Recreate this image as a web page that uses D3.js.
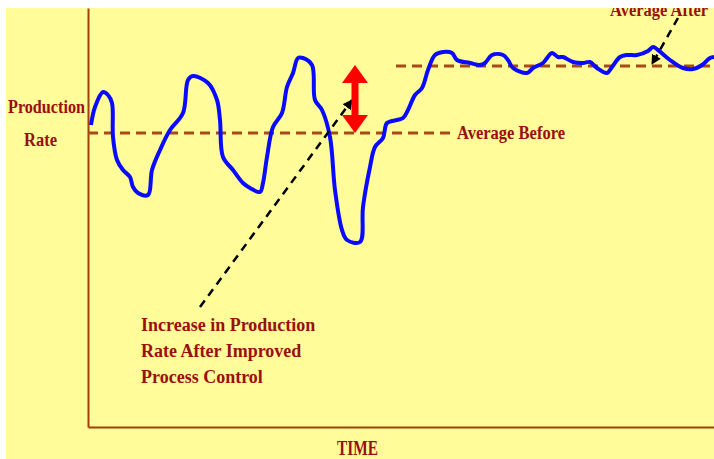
<!DOCTYPE html>
<html>
<head>
<meta charset="utf-8">
<script src="https://cdn.jsdelivr.net/npm/d3@7"></script>
<style>
  html, body { margin: 0; padding: 0; background: #fff; }
  svg { display: block; }
</style>
</head>
<body>
<svg id="chart" width="714" height="459"></svg>
<script>
// time units and production rate
const time = [3, 7, 15, 20, 24, 25, 29, 35, 42, 45, 50, 60, 64, 72, 82, 95, 100, 105, 120, 129,
  132, 135, 145, 155, 162, 172, 175, 179, 185, 194, 199, 205, 210, 215, 224, 227, 234, 242, 247, 254,
  259, 272, 275, 282, 287, 295, 299, 309, 315, 320, 327, 334, 340, 347, 355, 364, 369, 382, 392, 397,
  404, 415, 420, 425, 439, 445, 455, 464, 470, 475, 485, 495, 502, 509, 519, 524, 532, 539, 549, 560,
  565, 570, 582, 595, 605, 614, 622, 626];
const rate = [302, 320, 335, 332, 324, 290, 267, 257, 250, 240, 234, 232, 257, 277, 297, 314, 347, 351, 344, 327,
  307, 270, 257, 244, 239, 235, 244, 270, 300, 314, 340, 354, 369, 369, 362, 327, 317, 290, 237, 197,
  187, 185, 220, 260, 280, 289, 304, 307, 309, 317, 332, 339, 357, 372, 375, 374, 367, 364, 362, 364,
  372, 372, 367, 359, 354, 359, 364, 374, 370, 370, 365, 364, 365, 359, 354, 360, 370, 372, 372, 376,
  380, 377, 367, 359, 358, 362, 369, 370];

const averageBefore = { value: 294, from: 0, to: 366 };
const averageAfter = { value: 361, from: 308, to: 626 };
const improvement = { at: 267 };
const annotationLines = ['Increase in Production', 'Rate After Improved', 'Process Control'];

const width = 714, height = 459;
const plot = { left: 88, top: 8, right: 714, bottom: 427 };

const svg = d3.select('#chart');

const x = d3.scaleLinear().domain([0, 626]).range([plot.left, plot.right]);
const y = d3.scaleLinear().domain([0, 419]).range([plot.bottom, plot.top]);

const textColor = '#9a0f0f';
const serif = '"Liberation Serif", "Times New Roman", serif';

// yellow slide background
svg.append('rect')
  .attr('x', 6).attr('y', 8)
  .attr('width', width - 6).attr('height', height - 8)
  .attr('fill', '#fffc99');

const defs = svg.append('defs');
defs.append('marker')
  .attr('id', 'blackHead')
  .attr('viewBox', '0 0 10 10')
  .attr('refX', 9).attr('refY', 5)
  .attr('markerWidth', 4).attr('markerHeight', 4)
  .attr('markerUnits', 'strokeWidth')
  .attr('orient', 'auto')
  .append('path')
  .attr('d', 'M0,0 L10,5 L0,10 Z')
  .attr('fill', '#000');

// axes (lines only)
svg.append('g')
  .attr('transform', `translate(${plot.left},0)`)
  .call(d3.axisLeft(y).tickValues([]).tickSizeOuter(0))
  .select('.domain').attr('stroke', '#a0400a').attr('stroke-width', 2);

svg.append('g')
  .attr('transform', `translate(0,${plot.bottom})`)
  .call(d3.axisBottom(x).tickValues([]).tickSizeOuter(0))
  .select('.domain').attr('stroke', '#a0400a').attr('stroke-width', 2);

// average lines
[averageBefore, averageAfter].forEach(a => {
  svg.append('line')
    .attr('x1', x(a.from)).attr('x2', x(a.to))
    .attr('y1', y(a.value)).attr('y2', y(a.value))
    .attr('stroke', '#a8491a')
    .attr('stroke-width', 3)
    .attr('stroke-dasharray', '10,6');
});

// production curve
const line = d3.line()
  .x((d, i) => x(time[i]))
  .y(d => y(d))
  .curve(d3.curveCatmullRom.alpha(0.5));

svg.append('path')
  .datum(rate)
  .attr('fill', 'none')
  .attr('stroke', '#0a0aff')
  .attr('stroke-width', 4)
  .attr('stroke-linejoin', 'round')
  .attr('d', line);

// annotation arrows
svg.append('line')
  .attr('x1', x(112)).attr('y1', y(120))
  .attr('x2', x(264)).attr('y2', y(327))
  .attr('stroke', '#000').attr('stroke-width', 2.5)
  .attr('stroke-dasharray', '8,6')
  .attr('marker-end', 'url(#blackHead)');

svg.append('line')
  .attr('x1', x(590)).attr('y1', y(409))
  .attr('x2', x(564)).attr('y2', y(363))
  .attr('stroke', '#000').attr('stroke-width', 2.5)
  .attr('stroke-dasharray', '8,6')
  .attr('marker-end', 'url(#blackHead)');

// red double arrow
const ax = x(improvement.at);
const yTop = y(averageAfter.value + 1);
const yBot = y(averageBefore.value);
svg.append('rect')
  .attr('x', ax - 3.5).attr('y', yTop + 16)
  .attr('width', 7).attr('height', yBot - yTop - 32)
  .attr('fill', '#ff0000');
svg.append('path')
  .attr('d', `M${ax},${yTop} L${ax + 13},${yTop + 18} L${ax - 13},${yTop + 18} Z`)
  .attr('fill', '#ff0000');
svg.append('path')
  .attr('d', `M${ax},${yBot} L${ax + 13},${yBot - 18} L${ax - 13},${yBot - 18} Z`)
  .attr('fill', '#ff0000');

// texts
const label = (txt, tx, ty, size, len) => {
  const t = svg.append('text')
    .attr('x', tx).attr('y', ty)
    .attr('font-family', serif)
    .attr('font-weight', 'bold')
    .attr('font-size', size)
    .attr('fill', textColor)
    .text(txt);
  if (len) t.attr('textLength', len).attr('lengthAdjust', 'spacingAndGlyphs');
  return t;
};

label('Production', 8, 113, 19, 77);
label('Rate', 24, 146, 19, 33);
label('Average Before', x(averageBefore.to) + 3, y(averageBefore.value) + 6, 18, 108);
label('Average After', 610, 16, 18, 98);
annotationLines.forEach((l, i) => {
  label(l, 141, 331 + i * 26, 18);
});
label('TIME', 337, 455, 20, 41);

// white slide margins
svg.append('rect').attr('x', 0).attr('y', 0).attr('width', width).attr('height', 8).attr('fill', '#fff');
svg.append('rect').attr('x', 0).attr('y', 0).attr('width', 6).attr('height', height).attr('fill', '#fff');
</script>
</body>
</html>
